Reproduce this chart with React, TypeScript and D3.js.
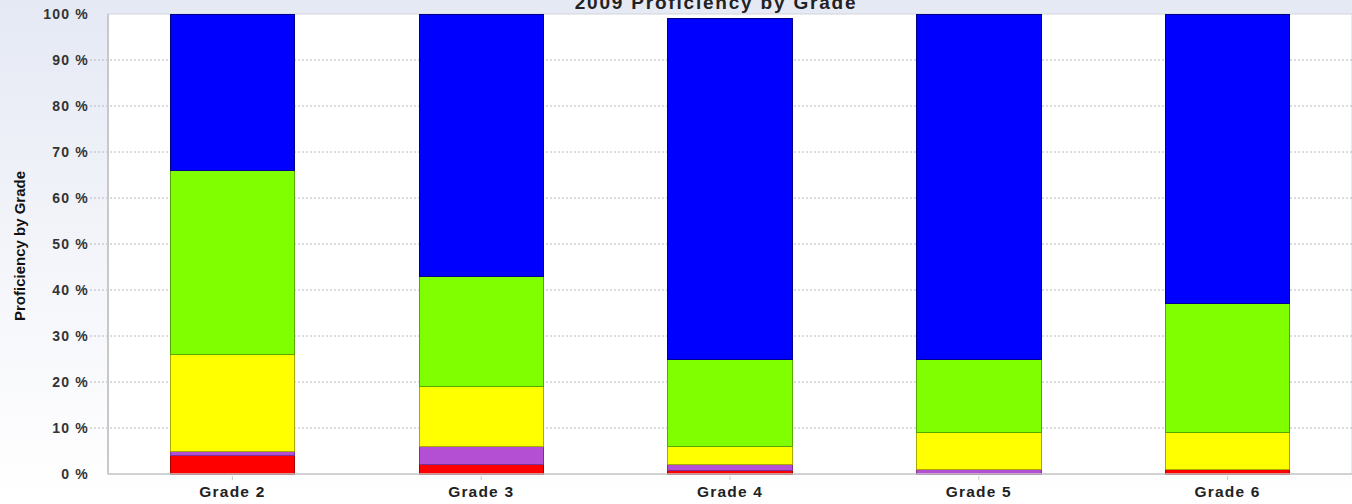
import React from "react";
import * as d3 from "d3";

const grades = ["Grade 2", "Grade 3", "Grade 4", "Grade 5", "Grade 6"];
const seriesNames = ["Red", "Purple", "Yellow", "Green", "Blue"];
const red = [4, 2, 0.7, 0, 1];
const purple = [1, 4, 1.3, 1, 0];
const yellow = [21, 13, 4, 8, 8];
const green = [40, 24, 19, 16, 28];
const blue = [34, 57, 74, 75, 63];
const seriesValues = [red, purple, yellow, green, blue];
const fills = ["#ff0000", "#b44fd4", "#ffff00", "#80ff00", "#0000ff"];
const strokes = ["#a00000", "#7a2f99", "#a8a800", "#55a800", "#00008a"];
const yTicks = [0, 10, 20, 30, 40, 50, 60, 70, 80, 90, 100];

const W = 1352;
const H = 504;
const M = { left: 108, right: 0, top: 14, bottom: 30 };

export default function App() {
  const x = d3
    .scaleBand<string>()
    .domain(grades)
    .range([M.left, W - M.right])
    .paddingInner(0.5)
    .paddingOuter(0.25);
  const y = d3.scaleLinear().domain([0, 100]).range([H - M.bottom, M.top]);

  const rows = grades.map((g, i) => {
    const r: any = { grade: g };
    seriesNames.forEach((s, k) => (r[s] = seriesValues[k][i]));
    return r;
  });
  const stacked = d3.stack<any>().keys(seriesNames)(rows);

  const font = "Arial, 'Liberation Sans', sans-serif";
  return (
    <svg
      width={W}
      height={H}
      style={{ position: "absolute", left: 0, top: 0, display: "block" }}
    >
      <defs>
        <linearGradient id="bg" x1="0" y1="0" x2="0" y2="1">
          <stop offset="0" stopColor="#e5e9f4" />
          <stop offset="0.6" stopColor="#f6f7fb" />
          <stop offset="1" stopColor="#ffffff" />
        </linearGradient>
      </defs>
      <rect x={0} y={0} width={W} height={H} fill="url(#bg)" />
      <rect
        x={M.left}
        y={M.top}
        width={W - M.left - M.right}
        height={H - M.top - M.bottom}
        fill="#ffffff"
        stroke="#d0d4dc"
        strokeWidth={1}
      />
      {yTicks
        .filter((t) => t > 0 && t < 100)
        .map((t) => (
          <line
            key={"g" + t}
            x1={M.left - 18}
            x2={W - M.right}
            y1={y(t)}
            y2={y(t)}
            stroke="#b4b8c0"
            strokeWidth={1}
            strokeDasharray="2,2"
          />
        ))}
      <line
        x1={M.left}
        x2={M.left}
        y1={M.top}
        y2={y(0)}
        stroke="#c8c8c8"
        strokeWidth={2}
      />
      {stacked.map((layer, k) =>
        layer.map((d, i) => {
          const h = y(d[0]) - y(d[1]);
          if (h <= 0) return null;
          return (
            <rect
              key={k + "-" + i}
              x={x(grades[i])}
              y={y(d[1])}
              width={x.bandwidth()}
              height={h}
              fill={fills[k]}
              stroke={strokes[k]}
              strokeWidth={1}
              shapeRendering="crispEdges"
            />
          );
        })
      )}
      <line
        x1={M.left}
        x2={W - M.right}
        y1={y(0)}
        y2={y(0)}
        stroke="#c8c8c8"
        strokeWidth={1.5}
      />
      {yTicks.map((t) => (
        <text
          key={"t" + t}
          x={89}
          y={y(t)}
          dy="0.35em"
          textAnchor="end"
          fontFamily={font}
          fontWeight="bold"
          fontSize={14}
          letterSpacing={1.2}
          fill="#333"
        >
          {t} %
        </text>
      ))}
      {grades.map((g) => (
        <g key={g}>
          <line
            x1={x(g)! + x.bandwidth() / 2}
            x2={x(g)! + x.bandwidth() / 2}
            y1={y(0) + 2}
            y2={y(0) + 6}
            stroke="#ccc"
          />
          <text
            x={x(g)! + x.bandwidth() / 2}
            y={497}
            textAnchor="middle"
            fontFamily={font}
            fontWeight="bold"
            fontSize={15.5}
            letterSpacing={1.2}
            fill="#222"
          >
            {g}
          </text>
        </g>
      ))}
      <text
        x={716}
        y={9}
        textAnchor="middle"
        fontFamily={font}
        fontWeight="bold"
        fontSize={19}
        letterSpacing={1.8}
        fill="#222"
      >
        2009 Proficiency by Grade
      </text>
      <text
        transform={`translate(25,246) rotate(-90)`}
        textAnchor="middle"
        fontFamily="'Liberation Sans Narrow', 'Arial Narrow', Arial, sans-serif"
        fontWeight="bold"
        fontSize={15}
        fill="#111"
      >
        Proficiency by Grade
      </text>
    </svg>
  );
}
